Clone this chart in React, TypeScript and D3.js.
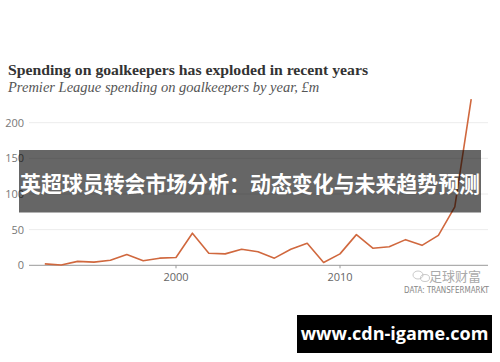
import * as React from 'react';
import * as d3 from "d3";

interface Point {
    year: number;
    value: number;
}

// spending per season, £m
const years = [1992, 1993, 1994, 1995, 1996, 1997, 1998, 1999, 2000, 2001, 2002, 2003, 2004, 2005,
    2006, 2007, 2008, 2009, 2010, 2011, 2012, 2013, 2014, 2015, 2016, 2017, 2018];
const spending = [2, 0.5, 5.5, 4.5, 7, 15, 6.5, 10, 11, 45, 17, 16, 22.5, 19,
    10, 22.5, 31, 4, 16, 43, 24, 26, 36, 28, 42, 82, 233];
const yTicks = [0, 50, 100, 150, 200];
const xTicks = [2000, 2010];

const title = "Spending on goalkeepers has exploded in recent years";
const subtitle = "Premier League spending on goalkeepers by year, £m";
const banner = "英超球员转会市场分析：动态变化与未来趋势预测";
const site = "www.cdn-igame.com";

const W = 500, H = 362;
const sans = "'Open Sans', 'Noto Sans', sans-serif";
const serif = "'Liberation Serif', 'DejaVu Serif', serif";

export default function App() {
    const data: Point[] = years.map((y, i) => ({ year: y, value: spending[i] }));

    const x = d3.scaleLinear().domain([2000, 2010]).range([176, 340]);
    const y = d3.scaleLinear().domain([0, 200]).range([265.3, 122.7]);

    const line = d3.line<Point>()
        .curve(d3.curveLinear)
        .x(p => x(p.year))
        .y(p => y(p.value));

    return (
        <svg width={W} height={H} style={{ position: "absolute", left: 0, top: 0, background: "#fff" }}>
            <text x={8} y={75} fontFamily={serif} fontWeight="bold" fontSize={15.5} fill="#333" textLength={360} lengthAdjust="spacingAndGlyphs">{title}</text>
            <text x={8} y={92} fontFamily={serif} fontStyle="italic" fontSize={14.5} fill="#555">{subtitle}</text>

            {yTicks.map(t => (
                <g key={t}>
                    {t > 0 && <line x1={29} x2={488} y1={y(t)} y2={y(t)} stroke="#ececec" strokeWidth={1} />}
                    <text x={24} y={y(t) + 4} textAnchor="end" fontFamily={sans} fontSize={11} fill="#777">{t}</text>
                </g>
            ))}
            <line x1={29} x2={488} y1={y(0)} y2={y(0)} stroke="#999" strokeWidth={1} />
            {xTicks.map(t => (
                <g key={t}>
                    <line x1={x(t)} x2={x(t)} y1={y(0)} y2={y(0) + 3} stroke="#999" />
                    <text x={x(t)} y={281} textAnchor="middle" fontFamily={sans} fontSize={11} fill="#666">{t}</text>
                </g>
            ))}

            <path d={line(data) || undefined} fill="none" stroke="#d0683e" strokeWidth={1.6} strokeLinejoin="round" />

            {/* watermark */}
            <g fill="none" stroke="#bbb" strokeWidth={0.8}>
                <ellipse cx={418} cy={275} rx={5} ry={4} />
                <ellipse cx={425} cy={278} rx={4.5} ry={3.5} />
            </g>
            <text x={481} y={281} textAnchor="end" fontFamily="'Noto Sans CJK SC', sans-serif" fontSize={13} fill="#aaa">足球财富</text>
            <text x={489} y={293} textAnchor="end" fontFamily="'DejaVu Sans Condensed', 'Liberation Sans Narrow', sans-serif" fontSize={8} fill="#888" textLength={85} lengthAdjust="spacingAndGlyphs">DATA: TRANSFERMARKT</text>

            {/* overlays */}
            <rect x={19} y={150} width={462} height={62.5} fill="#000" opacity={0.6} />
            <text x={250} y={192} textAnchor="middle" fontFamily="'Noto Sans CJK SC', sans-serif" fontWeight="bold" fontSize={21.5} fill="#fff" textLength={460} lengthAdjust="spacingAndGlyphs">{banner}</text>

            <rect x={297} y={315} width={195} height={38} fill="#000" />
            <text x={394.5} y={340} textAnchor="middle" fontFamily={sans} fontWeight="bold" fontSize={18} fill="#fff">{site}</text>
        </svg>
    );
}
